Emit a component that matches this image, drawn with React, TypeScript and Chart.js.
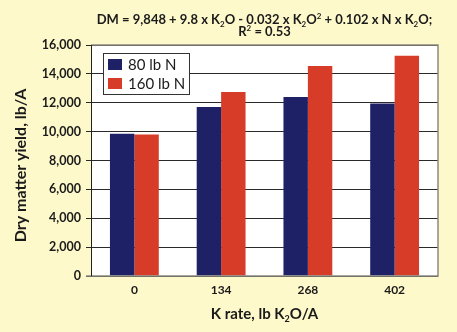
import React, { useEffect, useRef } from "react";
import { Chart, registerables } from "chart.js";
Chart.register(...registerables);

const categories = ["0", "134", "268", "402"];
const n80 = [9850, 11700, 12400, 11950];
const n160 = [9800, 12750, 14550, 15250];
const seriesLabels = ["80 lb N", "160 lb N"];
const seriesColors = ["#1f2167", "#d63c27"];
const yMin = 0;
const yMax = 16000;
const yStep = 2000;

type Seg = { t: string; s?: "sub" | "sup" };
const titleLine1: Seg[] = [
  { t: "DM = 9,848 + 9.8 x K" }, { t: "2", s: "sub" }, { t: "O - 0.032 x K" }, { t: "2", s: "sub" },
  { t: "O" }, { t: "2", s: "sup" }, { t: " + 0.102 x N x K" }, { t: "2", s: "sub" }, { t: "O;" },
];
const titleLine2: Seg[] = [{ t: "R" }, { t: "2", s: "sup" }, { t: " = 0.53" }];
const xTitle: Seg[] = [{ t: "K rate, lb K" }, { t: "2", s: "sub" }, { t: "O/A" }];
const yTitle = "Dry matter yield, lb/A";

const FONT = "Lato, 'Open Sans', sans-serif";
const BG = "#fef9cb";

function drawSegs(ctx: CanvasRenderingContext2D, segs: Seg[], cx: number, baseY: number, size: number, weight: string, color: string) {
  const small = Math.round(size * 0.62);
  const widthOf = (s: Seg) => {
    ctx.font = `${weight} ${s.s ? small : size}px ${FONT}`;
    return ctx.measureText(s.t).width;
  };
  const total = segs.reduce((a, s) => a + widthOf(s), 0);
  let x = cx - total / 2;
  ctx.fillStyle = color;
  ctx.textAlign = "left";
  ctx.textBaseline = "alphabetic";
  for (const s of segs) {
    const w = widthOf(s);
    const dy = s.s === "sub" ? size * 0.25 : s.s === "sup" ? -size * 0.38 : 0;
    ctx.fillText(s.t, x, baseY + dy);
    x += w;
  }
}

const decorPlugin = {
  id: "decor",
  beforeDraw(chart: any) {
    const { ctx, chartArea: a, width, height } = chart;
    ctx.save();
    ctx.fillStyle = BG;
    ctx.fillRect(0, 0, width, height);
    ctx.fillStyle = "#ffffff";
    ctx.fillRect(a.left, a.top, a.right - a.left, a.bottom - a.top);
    ctx.restore();
  },
  afterDraw(chart: any) {
    const { ctx, chartArea: a } = chart;
    ctx.save();
    ctx.strokeStyle = "#8c8a80";
    ctx.lineWidth = 1.5;
    ctx.beginPath();
    ctx.moveTo(a.left, a.top);
    ctx.lineTo(a.right, a.top);
    ctx.lineTo(a.right, a.bottom);
    ctx.lineTo(a.left - 5, a.bottom);
    ctx.stroke();
    ctx.strokeStyle = "#222";
    ctx.lineWidth = 1;
    ctx.beginPath();
    ctx.moveTo(a.left + 0.5, a.top);
    ctx.lineTo(a.left + 0.5, a.bottom);
    ctx.stroke();

    const lx = 103, ly = 53, lw = 86, lh = 41;
    ctx.fillStyle = "#ffffff";
    ctx.fillRect(lx, ly, lw, lh);
    ctx.strokeStyle = "#333";
    ctx.lineWidth = 1;
    ctx.strokeRect(lx + 0.5, ly + 0.5, lw, lh);
    seriesLabels.forEach((lab, i) => {
      const y = 59 + i * 19;
      ctx.fillStyle = seriesColors[i];
      ctx.fillRect(108, y, 14, 11);
      ctx.fillStyle = "#1a1a1a";
      ctx.font = `normal 15px ${FONT}`;
      ctx.textAlign = "left";
      ctx.textBaseline = "middle";
      ctx.fillText(lab, 128, y + 6);
    });

    const cx = (a.left + a.right) / 2;
    drawSegs(ctx, titleLine1, cx, 23.5, 13, "bold", "#1a1a1a");
    drawSegs(ctx, titleLine2, cx, 36, 13, "bold", "#1a1a1a");
    drawSegs(ctx, xTitle, cx, 318.5, 15, "bold", "#1a1a1a");

    ctx.translate(25.5, (a.top + a.bottom) / 2 + 5);
    ctx.rotate(-Math.PI / 2);
    ctx.font = `bold 16px ${FONT}`;
    ctx.fillStyle = "#1a1a1a";
    ctx.textAlign = "center";
    ctx.textBaseline = "alphabetic";
    ctx.fillText(yTitle, 0, 0);
    ctx.restore();
  },
};

export default function App() {
  const ref = useRef<HTMLCanvasElement>(null);
  useEffect(() => {
    const chart = new Chart(ref.current!, {
      type: "bar",
      data: {
        labels: categories,
        datasets: [
          { label: seriesLabels[0], data: n80, backgroundColor: seriesColors[0], borderWidth: 0 },
          { label: seriesLabels[1], data: n160, backgroundColor: seriesColors[1], borderWidth: 0 },
        ],
      },
      options: {
        responsive: false,
        animation: false,
        devicePixelRatio: 1,
        layout: { padding: { top: 45, right: 19, left: 0, bottom: 0 } },
        datasets: { bar: { categoryPercentage: 0.563, barPercentage: 1 } },
        plugins: { legend: { display: false }, tooltip: { enabled: false }, title: { display: false } },
        scales: {
          x: {
            grid: { display: false, drawTicks: false },
            border: { display: false },
            ticks: { color: "#1a1a1a", font: { family: FONT, size: 12, weight: "bold" }, padding: 7 },
            afterFit: (s: any) => { s.height = 56; },
          },
          y: {
            min: yMin,
            max: yMax,
            grid: { color: "#2a2a2a", lineWidth: 1, tickLength: 5, drawTicks: true },
            border: { display: true, color: "#222" },
            ticks: {
              stepSize: yStep,
              color: "#1a1a1a",
              padding: 5,
              font: { family: FONT, size: 12.5, weight: "bold" },
              callback: (v: any) => Number(v).toLocaleString("en-US"),
            },
            afterFit: (s: any) => { s.width = 91; },
          },
        },
      },
      plugins: [decorPlugin],
    } as any);
    return () => chart.destroy();
  }, []);
  return (
    <div style={{ position: "absolute", left: 0, top: 0, width: 457, height: 332 }}>
      <canvas ref={ref} width={457} height={332} style={{ display: "block" }} />
    </div>
  );
}
